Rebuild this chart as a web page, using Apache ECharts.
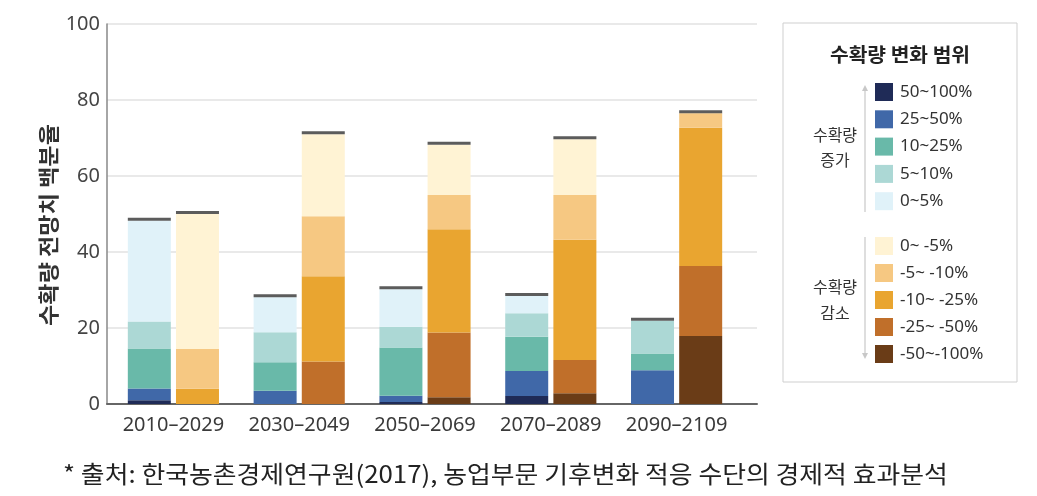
<!DOCTYPE html>
<html>
<head>
<meta charset="utf-8">
<script src="https://cdn.jsdelivr.net/npm/echarts@6/dist/echarts.min.js"></script>
<style>
html,body{margin:0;padding:0;background:#fff;}
#c{width:1037px;height:496px;}
</style>
</head>
<body>
<div id="c"></div>
<script>
const categories = ['2010–2029','2030–2049','2050–2069','2070–2089','2090–2109'];
const yTicks = [0, 20, 40, 60, 80, 100];

// 수확량 증가 (bottom to top)
const inc50_100 = [1.0, 0.0, 0.5, 2.1, 0.0];
const inc25_50  = [3.1, 3.5, 1.7, 6.6, 8.9];
const inc10_25  = [10.5, 7.5, 12.7, 9.0, 4.4];
const inc5_10   = [7.1, 7.9, 5.4, 6.2, 8.6];
const inc0_5    = [26.5, 9.2, 9.9, 4.5, 0.0];

// 수확량 감소 (bottom to top)
const dec50_100 = [0.0, 0.0, 1.8, 2.8, 17.9];
const dec25_50  = [0.0, 11.2, 17.0, 8.8, 18.4];
const dec10_25  = [4.0, 22.4, 27.2, 31.6, 36.4];
const dec5_10   = [10.5, 15.8, 9.0, 11.8, 3.8];
const dec0_5    = [35.5, 21.6, 13.2, 14.7, 0.0];

const incNames = ['50~100%','25~50%','10~25%','5~10%','0~5%'];
const decNames = ['0~ -5%','-5~ -10%','-10~ -25%','-25~ -50%','-50~-100%'];

const NUMFONT = "'Noto Sans','Noto Sans CJK KR',sans-serif";

const incSeries = [
  {name:'50~100%', data:inc50_100, color:'#1f2b57'},
  {name:'25~50%', data:inc25_50, color:'#4068a8'},
  {name:'10~25%', data:inc10_25, color:'#69b9a9'},
  {name:'5~10%', data:inc5_10, color:'#acd8d5'},
  {name:'0~5%', data:inc0_5, color:'#e0f2f9'}
];
const decSeries = [
  {name:'-50~-100%', data:dec50_100, color:'#6a3c17'},
  {name:'-25~ -50%', data:dec25_50, color:'#c06f2a'},
  {name:'-10~ -25%', data:dec10_25, color:'#e9a530'},
  {name:'-5~ -10%', data:dec5_10, color:'#f6c882'},
  {name:'0~ -5%', data:dec0_5, color:'#fff3d4'}
];

const incTotal = categories.map((c,i)=>incSeries.reduce((s,x)=>s+x.data[i],0));
const decTotal = categories.map((c,i)=>decSeries.reduce((s,x)=>s+x.data[i],0));

const BW = 43;
const series = [];
incSeries.forEach(s=>series.push({
  name:s.name, type:'bar', stack:'inc', xAxisIndex:1, yAxisIndex:1,
  data:s.data, barWidth:BW, barGap:'12%', itemStyle:{color:s.color}, emphasis:{disabled:true}
}));
decSeries.forEach(s=>series.push({
  name:s.name, type:'bar', stack:'dec', xAxisIndex:1, yAxisIndex:1,
  data:s.data, barWidth:BW, barGap:'12%', itemStyle:{color:s.color}, emphasis:{disabled:true}
}));
const off = (BW + BW*0.12)/2;
series.push({type:'scatter', xAxisIndex:1, yAxisIndex:1, data:incTotal, symbol:'rect',
  symbolSize:[BW,3], symbolOffset:[-off,-1.5], itemStyle:{color:'#333'}, z:5, silent:true});
series.push({type:'scatter', xAxisIndex:1, yAxisIndex:1, data:decTotal, symbol:'rect',
  symbolSize:[BW,3], symbolOffset:[off,-1.5], itemStyle:{color:'#333'}, z:5, silent:true});

const chart = echarts.init(document.getElementById('c'), null, {renderer:'canvas'});
chart.setOption({
  animation:false,
  backgroundColor:'#fff',
  grid:[
    {left:107, top:24, width:650, height:380},
    {left:110.5, top:24, width:629, height:380}
  ],
  xAxis:[
    {type:'value', gridIndex:0, min:0, max:1, axisLabel:{show:false}, axisTick:{show:false},
     splitLine:{show:false}, axisLine:{show:true, lineStyle:{color:'#666', width:2}}},
    {type:'category', gridIndex:1, data:categories, axisLine:{show:false}, axisTick:{show:false},
     axisLabel:{interval:0, fontFamily:NUMFONT, fontSize:20, color:'#3a3a3a', margin:11}}
  ],
  yAxis:[
    {type:'value', gridIndex:0, min:0, max:100, interval:20,
     axisLine:{show:true, lineStyle:{color:'#888', width:1.5}}, axisTick:{show:false},
     axisLabel:{fontFamily:NUMFONT, fontSize:20, color:'#444', margin:7,
       formatter:v=>yTicks.includes(v)?String(v):''},
     splitLine:{show:true, lineStyle:{color:'#e2e2e2', width:1.5}}},
    {type:'value', gridIndex:1, min:0, max:100, show:false, splitLine:{show:false}}
  ],
  legend:[
    {data:incNames, orient:'vertical', left:875, top:83, itemWidth:18, itemHeight:18, itemGap:9.3,
     padding:0, icon:'rect', selectedMode:false,
     textStyle:{fontFamily:NUMFONT, fontSize:17, color:'#333', padding:[0,0,0,2]}},
    {data:decNames, orient:'vertical', left:875, top:237, itemWidth:18, itemHeight:18, itemGap:9,
     padding:0, icon:'rect', selectedMode:false,
     textStyle:{fontFamily:NUMFONT, fontSize:17, color:'#333', padding:[0,0,0,2]}}
  ],
  graphic:[
    {type:'rect', shape:{x:783, y:23, width:234, height:359}, style:{fill:'#fff', stroke:'#cfcfcf', lineWidth:1}, z:-10},
    {type:'text', x:900, y:55, scaleX:1.07, style:{text:'수확량 변화 범위', font:"bold 19px 'Noto Sans CJK KR'", fill:'#222', textAlign:'center', textVerticalAlign:'middle'}},
    {type:'text', x:835, y:135, style:{text:'수확량', font:"16px 'Noto Sans CJK KR'", fill:'#333', textAlign:'center', textVerticalAlign:'middle'}},
    {type:'text', x:835, y:160, style:{text:'증가', font:"16px 'Noto Sans CJK KR'", fill:'#333', textAlign:'center', textVerticalAlign:'middle'}},
    {type:'text', x:835, y:287, style:{text:'수확량', font:"16px 'Noto Sans CJK KR'", fill:'#333', textAlign:'center', textVerticalAlign:'middle'}},
    {type:'text', x:835, y:313, style:{text:'감소', font:"16px 'Noto Sans CJK KR'", fill:'#333', textAlign:'center', textVerticalAlign:'middle'}},
    {type:'line', shape:{x1:865, y1:88, x2:865, y2:212}, style:{stroke:'#c8c8c8', lineWidth:1.2}},
    {type:'polygon', shape:{points:[[862,91],[868,91],[865,85]]}, style:{fill:'#c8c8c8'}},
    {type:'line', shape:{x1:865, y1:237, x2:865, y2:355}, style:{stroke:'#c8c8c8', lineWidth:1.2}},
    {type:'polygon', shape:{points:[[862,353],[868,353],[865,359]]}, style:{fill:'#c8c8c8'}},
    {type:'text', x:48, y:225, rotation:Math.PI/2, scaleX:1.1, style:{text:'수확량 전망치 백분율', font:"bold 21px 'Noto Sans CJK KR'", fill:'#333', textAlign:'center', textVerticalAlign:'middle'}},
    {type:'text', x:63, y:474, scaleX:1.077, style:{text:'* 출처: 한국농촌경제연구원(2017), 농업부문 기후변화 적응 수단의 경제적 효과분석', font:"24px 'Noto Sans CJK KR'", fill:'#222', textAlign:'left', textVerticalAlign:'middle'}}
  ],
  series:series
});
</script>
</body>
</html>
